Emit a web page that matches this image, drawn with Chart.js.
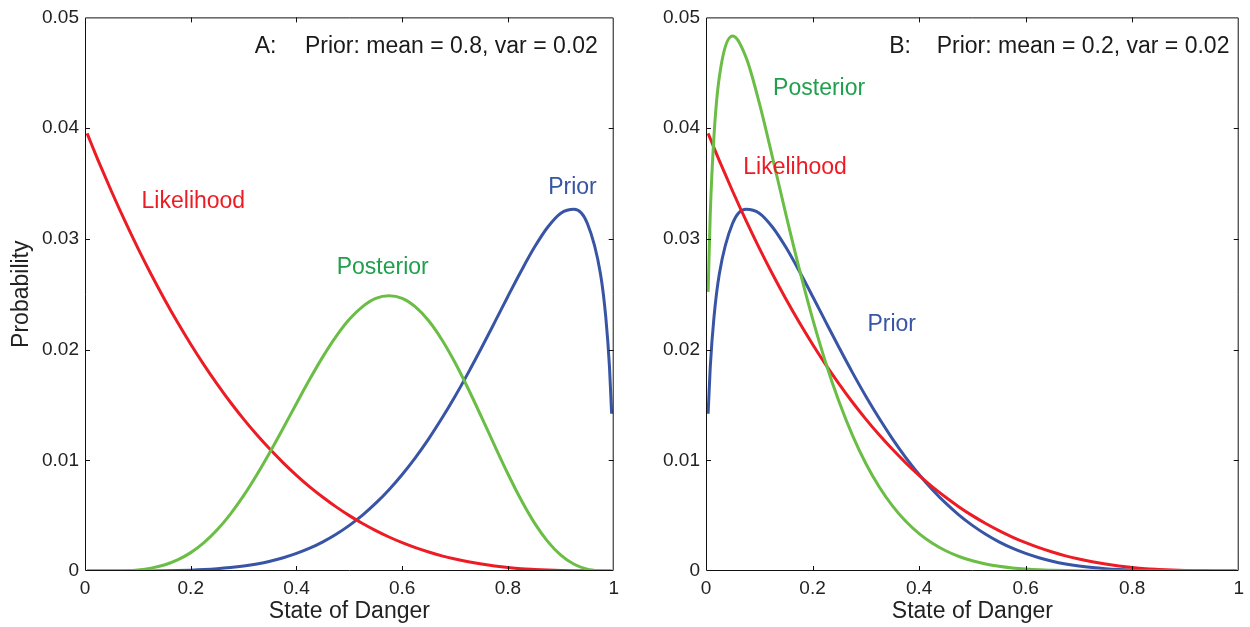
<!DOCTYPE html>
<html>
<head>
<meta charset="utf-8">
<script src="https://cdn.jsdelivr.net/npm/chart.js@4.4.1/dist/chart.umd.min.js"></script>
<style>
html,body{margin:0;padding:0;background:#fff;}
#wrapA{position:absolute;left:0;top:0;width:625px;height:627px;}
#wrapB{position:absolute;left:625px;top:0;width:625px;height:627px;}
</style>
</head>
<body>
<div id="wrapA"><canvas id="cA" width="625" height="627"></canvas></div>
<div id="wrapB"><canvas id="cB" width="625" height="627"></canvas></div>
<script>
// ---- data ----
const xGrid = [0.004,0.008,0.015,0.025,0.05,0.075,0.1,0.125,0.15,0.175,0.2,0.225,0.25,0.275,0.3,0.325,0.35,0.375,0.4,0.425,0.45,0.475,0.5,0.525,0.55,0.575,0.6,0.625,0.65,0.675,0.7,0.725,0.75,0.775,0.8,0.825,0.85,0.875,0.9,0.925,0.95,0.975,0.985,0.992,0.996];
const likelihood = [0.03952,0.03905,0.03823,0.03707,0.0343,0.03166,0.02916,0.0268,0.02457,0.02246,0.02048,0.01862,0.01688,0.01524,0.01372,0.0123,0.01099,0.00977,0.00864,0.0076,0.00666,0.00579,0.005,0.00429,0.00365,0.00307,0.00256,0.00211,0.00172,0.00137,0.00108,0.00083,0.00063,0.00046,0.00032,0.00021,0.00014,0.00008,0.00004,0.00002,0.00001,0,0,0,0];
const priorA = [0,0,0,0,0,0,0.000003,0.000009,0.00002,0.00004,0.000074,0.000125,0.0002,0.000306,0.00045,0.00064,0.000887,0.0012,0.001588,0.002063,0.002637,0.003319,0.004121,0.005051,0.006123,0.007342,0.00872,0.010249,0.01194,0.013792,0.015785,0.017918,0.020161,0.022475,0.024816,0.027094,0.029232,0.03105,0.032321,0.032675,0.031412,0.026832,0.022926,0.01842,0.0142];
const posteriorA = [0,0,0,0,0.000005,0.00003,0.0001,0.00026,0.00054,0.001,0.00166,0.00256,0.00372,0.00514,0.0068,0.00869,0.01075,0.01292,0.01513,0.01731,0.01936,0.02119,0.02273,0.02388,0.02462,0.02485,0.02462,0.02385,0.0226,0.02089,0.01881,0.01644,0.0139,0.01129,0.00876,0.00641,0.00435,0.00268,0.00143,0.00061,0.00017,0.00002,0,0,0];
const priorB = [0.0142,0.01842,0.022926,0.026832,0.031412,0.032675,0.032321,0.03105,0.029232,0.027094,0.024816,0.022475,0.020161,0.017918,0.015785,0.013792,0.01194,0.010249,0.00872,0.007342,0.006123,0.005051,0.004121,0.003319,0.002637,0.002063,0.001588,0.0012,0.000887,0.00064,0.00045,0.000306,0.0002,0.000125,0.000074,0.00004,0.00002,0.000009,0.000003,0,0,0,0,0,0];
const posteriorB = [0.02521,0.03225,0.0393,0.04461,0.04832,0.04641,0.04228,0.03732,0.03221,0.0273,0.02279,0.01877,0.01526,0.01225,0.00971,0.00761,0.00588,0.00449,0.00338,0.00251,0.00183,0.00131,0.00092,0.00064,0.00043,0.00028,0.00018,0.00011,0.00007,0.00004,0.00002,0.00001,0.00001,0,0,0,0,0,0,0,0,0,0,0,0];

const xTickValues = [0,0.2,0.4,0.6,0.8,1];
const xTickLabels = ['0','0.2','0.4','0.6','0.8','1'];
const yTickValues = [0,0.01,0.02,0.03,0.04,0.05];
const yTickLabels = ['0','0.01','0.02','0.03','0.04','0.05'];
const xTitle = 'State of Danger';
const yTitle = 'Probability';
const seriesNames = ['Posterior','Likelihood','Prior'];
const panelTags = ['A:','B:'];
const panelHeaders = ['Prior: mean = 0.8, var = 0.02','Prior: mean = 0.2, var = 0.02'];

// ---- styles ----
const RED = 'rgb(237,28,36)';
const GREEN_LINE = 'rgb(106,189,69)';
const GREEN_TEXT = 'rgb(32,160,76)';
const BLUE = 'rgb(56,84,165)';
const TEXT = '#222222';
const FONT = '"Liberation Sans", Arial, Helvetica, sans-serif';

function pts(ys){ return xGrid.map((x,i)=>({x:x, y:ys[i]})); }

function ds(label, ys, color){
  return {label, data: pts(ys), borderColor: color, borderWidth: 3, pointRadius: 0,
    fill: false, cubicInterpolationMode: 'monotone'};
}

const framePlugin = {
  id: 'frame',
  afterDatasetsDraw(chart){
    const {ctx, chartArea: a, scales} = chart;
    ctx.save();
    ctx.strokeStyle = '#111';
    ctx.lineWidth = 1;
    ctx.beginPath();
    ctx.rect(a.left + 0.5, a.top + 0.5, a.right - a.left - 1, a.bottom - a.top - 1);
    const tl = 5;
    xTickValues.forEach(v => {
      if (v <= 0 || v >= 1) return;
      const px = Math.round(scales.x.getPixelForValue(v)) + 0.5;
      ctx.moveTo(px, a.bottom); ctx.lineTo(px, a.bottom - tl);
      ctx.moveTo(px, a.top); ctx.lineTo(px, a.top + tl);
    });
    yTickValues.forEach(v => {
      if (v <= 0 || v >= 0.05) return;
      const py = Math.round(scales.y.getPixelForValue(v)) + 0.5;
      ctx.moveTo(a.left, py); ctx.lineTo(a.left + tl, py);
      ctx.moveTo(a.right, py); ctx.lineTo(a.right - tl, py);
    });
    ctx.stroke();
    ctx.restore();
  },
  afterDraw(chart){
    const notes = chart.options.plugins.frame.notes || [];
    const {ctx, scales} = chart;
    ctx.save();
    ctx.textBaseline = 'alphabetic';
    ctx.textAlign = 'left';
    ctx.font = '23px ' + FONT;
    notes.forEach(n => {
      ctx.fillStyle = n.color;
      ctx.fillText(n.text, scales.x.getPixelForValue(n.x), scales.y.getPixelForValue(n.y));
    });
    ctx.restore();
  }
};

function makeChart(id, datasets, yAxisWidth, padRight, showYTitle, notes){
  return new Chart(document.getElementById(id), {
    type: 'line',
    data: { datasets },
    options: {
      responsive: false,
      animation: false,
      events: [],
      layout: { padding: { top: 13, right: padRight, bottom: 0, left: 0 } },
      plugins: { legend: { display: false }, tooltip: { enabled: false }, frame: { notes } },
      scales: {
        x: {
          type: 'linear', min: 0, max: 1,
          afterBuildTicks: s => { s.ticks = xTickValues.map(v => ({value: v})); },
          afterFit: s => { s.height = 56; },
          grid: { display: false, drawTicks: false },
          border: { display: false },
          ticks: { padding: 6, color: TEXT, font: { family: FONT, size: 19 }, maxRotation: 0,
            callback: (v, i) => xTickLabels[i] },
          title: { display: true, text: xTitle, color: TEXT, font: { family: FONT, size: 23 },
            padding: { top: 0, bottom: 2 } }
        },
        y: {
          type: 'linear', min: 0, max: 0.05,
          afterBuildTicks: s => { s.ticks = yTickValues.map(v => ({value: v})); },
          afterFit: s => { s.width = yAxisWidth; },
          grid: { display: false, drawTicks: false },
          border: { display: false },
          ticks: { padding: 6, color: TEXT, font: { family: FONT, size: 19 },
            callback: (v, i) => yTickLabels[i] },
          title: { display: showYTitle, text: yTitle, color: TEXT, font: { family: FONT, size: 23 },
            padding: { top: 8, bottom: 0 } }
        }
      }
    },
    plugins: [framePlugin]
  });
}

makeChart('cA', [
  ds(seriesNames[0], posteriorA, GREEN_LINE),
  ds(seriesNames[1], likelihood, RED),
  ds(seriesNames[2], priorA, BLUE)
], 85, 11, true, [
  {text: panelTags[0], x: 0.321, y: 0.04675, color: '#1a1a1a'},
  {text: panelHeaders[0], x: 0.416, y: 0.04675, color: '#1a1a1a'},
  {text: seriesNames[1], x: 0.107, y: 0.03278, color: RED},
  {text: seriesNames[0], x: 0.476, y: 0.02685, color: GREEN_TEXT},
  {text: seriesNames[2], x: 0.876, y: 0.03405, color: BLUE}
]);

makeChart('cB', [
  ds(seriesNames[0], posteriorB, GREEN_LINE),
  ds(seriesNames[1], likelihood, RED),
  ds(seriesNames[2], priorB, BLUE)
], 81, 9, false, [
  {text: panelTags[1], x: 0.344, y: 0.04680, color: '#1a1a1a'},
  {text: panelHeaders[1], x: 0.433, y: 0.04680, color: '#1a1a1a'},
  {text: seriesNames[0], x: 0.126, y: 0.04300, color: GREEN_TEXT},
  {text: seriesNames[1], x: 0.070, y: 0.03590, color: RED},
  {text: seriesNames[2], x: 0.303, y: 0.02165, color: BLUE}
]);
</script>
</body>
</html>
